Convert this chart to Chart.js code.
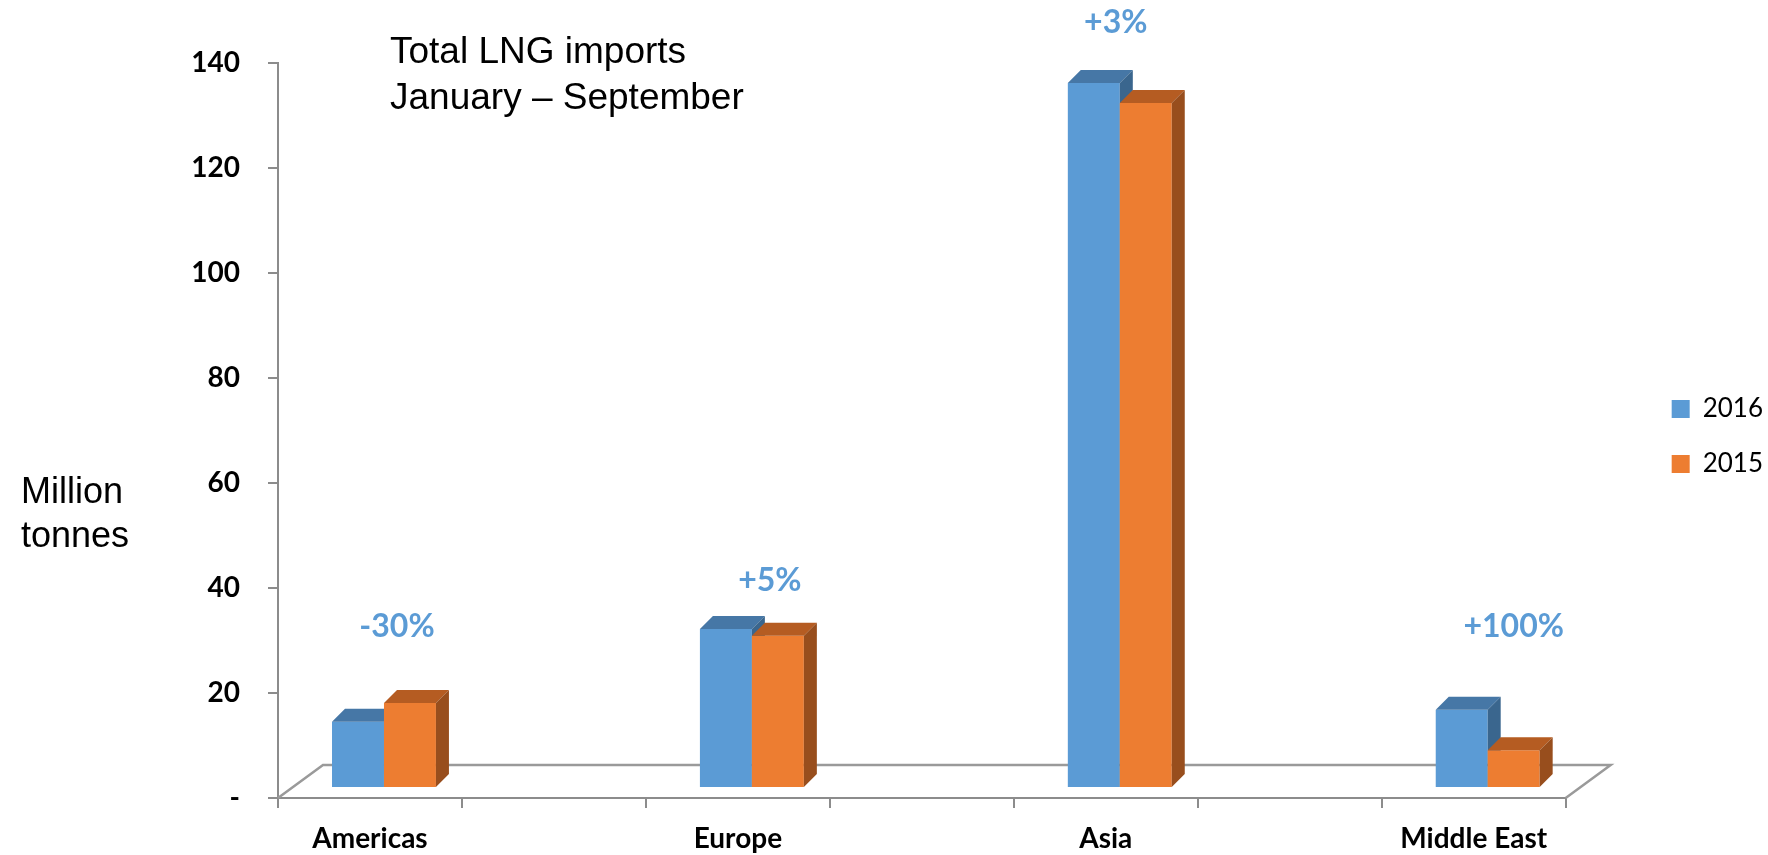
<!DOCTYPE html>
<html lang="en">
<head>
  <meta charset="UTF-8" />
  <title>Total LNG imports</title>
  <script src="https://cdn.jsdelivr.net/npm/chart.js"></script>
<style>
  html, body {
    margin: 0;
    padding: 0;
    background: #ffffff;
  }

  .container {
    width: 1768px;
    height: 855px;
  }
</style>
</head>
<body>
  <div class="container">
    <canvas id="grafico"></canvas>
  </div>

  <script>
    // Regions, with empty slots between them to space the groups out
    const categories = ['Americas', '', 'Europe', '', 'Asia', '', 'Middle East'];
    const imports2016 = [12.6, null, 30.3, null, 134.3, null, 14.9];
    const imports2015 = [16.2, null, 29.0, null, 130.5, null, 7.2];
    const seriesNames = ['2016', '2015'];
    const changeLabels = ['-30%', '+5%', '+3%', '+100%'];
    const yTicks = [0, 20, 40, 60, 80, 100, 120, 140];

    const axisGrey = '#8c8c8c';

    // floor, then each column front with its extruded top and side,
    // left to right so the next column covers the previous side face
    const depth3d = {
      id: 'depth3d',
      beforeDatasetsDraw(chart, args, opts) {
        const { ctx, chartArea: a } = chart;
        ctx.save();
        ctx.strokeStyle = opts.floorColor;
        ctx.lineWidth = 2.5;
        ctx.beginPath();
        ctx.moveTo(a.left, a.bottom);
        ctx.lineTo(a.left + opts.floor.x, a.bottom - opts.floor.y);
        ctx.lineTo(a.right + opts.floor.x, a.bottom - opts.floor.y);
        ctx.lineTo(a.right, a.bottom);
        ctx.stroke();

        // columns stand a little way back on the floor
        ctx.translate(opts.shift.x, -opts.shift.y);
        const d = opts.extrude;
        const sets = chart.data.datasets;
        categories.forEach((_, i) => {
          sets.forEach((ds, di) => {
            if (ds.data[i] == null) return;
            const bar = chart.getDatasetMeta(di).data[i];
            const { x, y, base, width } = bar.getProps(['x', 'y', 'base', 'width'], true);
            const l = x - width / 2, r = x + width / 2;
            const shade = opts.shades[di];
            bar.draw(ctx);
            ctx.fillStyle = shade.top;
            ctx.beginPath();
            ctx.moveTo(l, y);
            ctx.lineTo(l + d, y - d);
            ctx.lineTo(r + d, y - d);
            ctx.lineTo(r, y);
            ctx.closePath();
            ctx.fill();
            ctx.fillStyle = shade.side;
            ctx.beginPath();
            ctx.moveTo(r, y);
            ctx.lineTo(r + d, y - d);
            ctx.lineTo(r + d, base - d);
            ctx.lineTo(r, base);
            ctx.closePath();
            ctx.fill();
          });
        });
        ctx.restore();
        return false;
      }
    };

    // change labels, heading and unit text
    const notes = {
      id: 'notes',
      afterDraw(chart, args, opts) {
        const { ctx, scales: { x, y } } = chart;
        ctx.save();
        ctx.font = opts.changeFont;
        ctx.fillStyle = opts.changeColor;
        ctx.textAlign = 'center';
        ctx.textBaseline = 'middle';
        opts.anchors.forEach((p, i) => {
          ctx.fillText(changeLabels[i], x.getPixelForValue(p.cat) + p.dx, y.getPixelForValue(p.y));
        });
        ctx.fillStyle = '#000000';
        ctx.textAlign = 'left';
        ctx.textBaseline = 'alphabetic';
        opts.blocks.forEach(b => {
          ctx.font = b.font;
          b.lines.forEach((t, k) => ctx.fillText(t, b.x, b.y + k * b.lineGap));
        });
        ctx.restore();
      }
    };

    const tickFont = { family: 'Lato', size: 28, weight: 'bold' };

    const ctx = document.getElementById('grafico').getContext('2d');
    const chart = new Chart(ctx, {
      type: 'bar',
      data: {
        labels: categories,
        datasets: [{
          label: seriesNames[0],
          data: imports2016,
          backgroundColor: '#5b9bd5'
        }, {
          label: seriesNames[1],
          data: imports2015,
          backgroundColor: '#ed7d31'
        }]
      },
      options: {
        responsive: true,
        maintainAspectRatio: false,
        animation: false,
        categoryPercentage: 0.565,
        barPercentage: 1,
        layout: { padding: { top: 63, bottom: 0, left: 0, right: -5 } },
        scales: {
          x: {
            grid: { offset: true, drawOnChartArea: false, tickLength: 10, color: axisGrey, lineWidth: 2 },
            border: { color: axisGrey, width: 2 },
            ticks: { font: tickFont, color: '#000000', padding: 14, autoSkip: false, maxRotation: 0 },
            afterFit(s) { s.height = 57; }
          },
          y: {
            min: 0,
            max: 140,
            afterBuildTicks(s) { s.ticks = yTicks.map(v => ({ value: v })); },
            grid: { drawOnChartArea: false, tickLength: 10, color: axisGrey, lineWidth: 2 },
            border: { color: axisGrey, width: 2 },
            ticks: {
              font: tickFont,
              color: '#000000',
              padding: 28,
              callback: v => v === 0 ? '-' : v
            },
            afterFit(s) { s.width = 278; }
          },
          spacer: {
            position: 'right',
            display: true,
            grid: { display: false, drawTicks: false },
            border: { display: false },
            ticks: { display: false },
            afterFit(s) { s.width = 77; }
          }
        },
        plugins: {
          legend: {
            position: 'right',
            fullSize: false,
            // empty title just nudges the two entries down a little
            title: { display: true, text: '', font: { size: 10 }, padding: 0 },
            labels: {
              boxWidth: 18,
              boxHeight: 18,
              padding: 29,
              color: '#000000',
              font: { family: 'Lato', size: 26 },
              sort: (a, b) => a.datasetIndex - b.datasetIndex
            }
          },
          tooltip: { enabled: false },
          depth3d: {
            floor: { x: 45, y: 33 },
            shift: { x: 14, y: 10 },
            extrude: 13,
            floorColor: '#9a9a9a',
            shades: [
              { top: '#4677a6', side: '#3a668e' },
              { top: '#b55c22', side: '#984e1d' }
            ]
          },
          notes: {
            changeFont: 'bold 32px Lato',
            changeColor: '#5b9bd5',
            anchors: [
              { cat: 0, y: 32.6, dx: 27 },
              { cat: 2, y: 41.3, dx: 32 },
              { cat: 4, y: 147.6, dx: 10 },
              { cat: 6, y: 32.6, dx: 40 }
            ],
            blocks: [
              { lines: ['Total LNG imports', 'January \u2013 September'], x: 390, y: 63, lineGap: 46, font: '37px "Liberation Sans"' },
              { lines: ['Million', 'tonnes'], x: 21, y: 503, lineGap: 44, font: '36px "Liberation Sans"' }
            ]
          }
        }
      },
      plugins: [depth3d, notes]
    });
  </script>
</body>
</html>
